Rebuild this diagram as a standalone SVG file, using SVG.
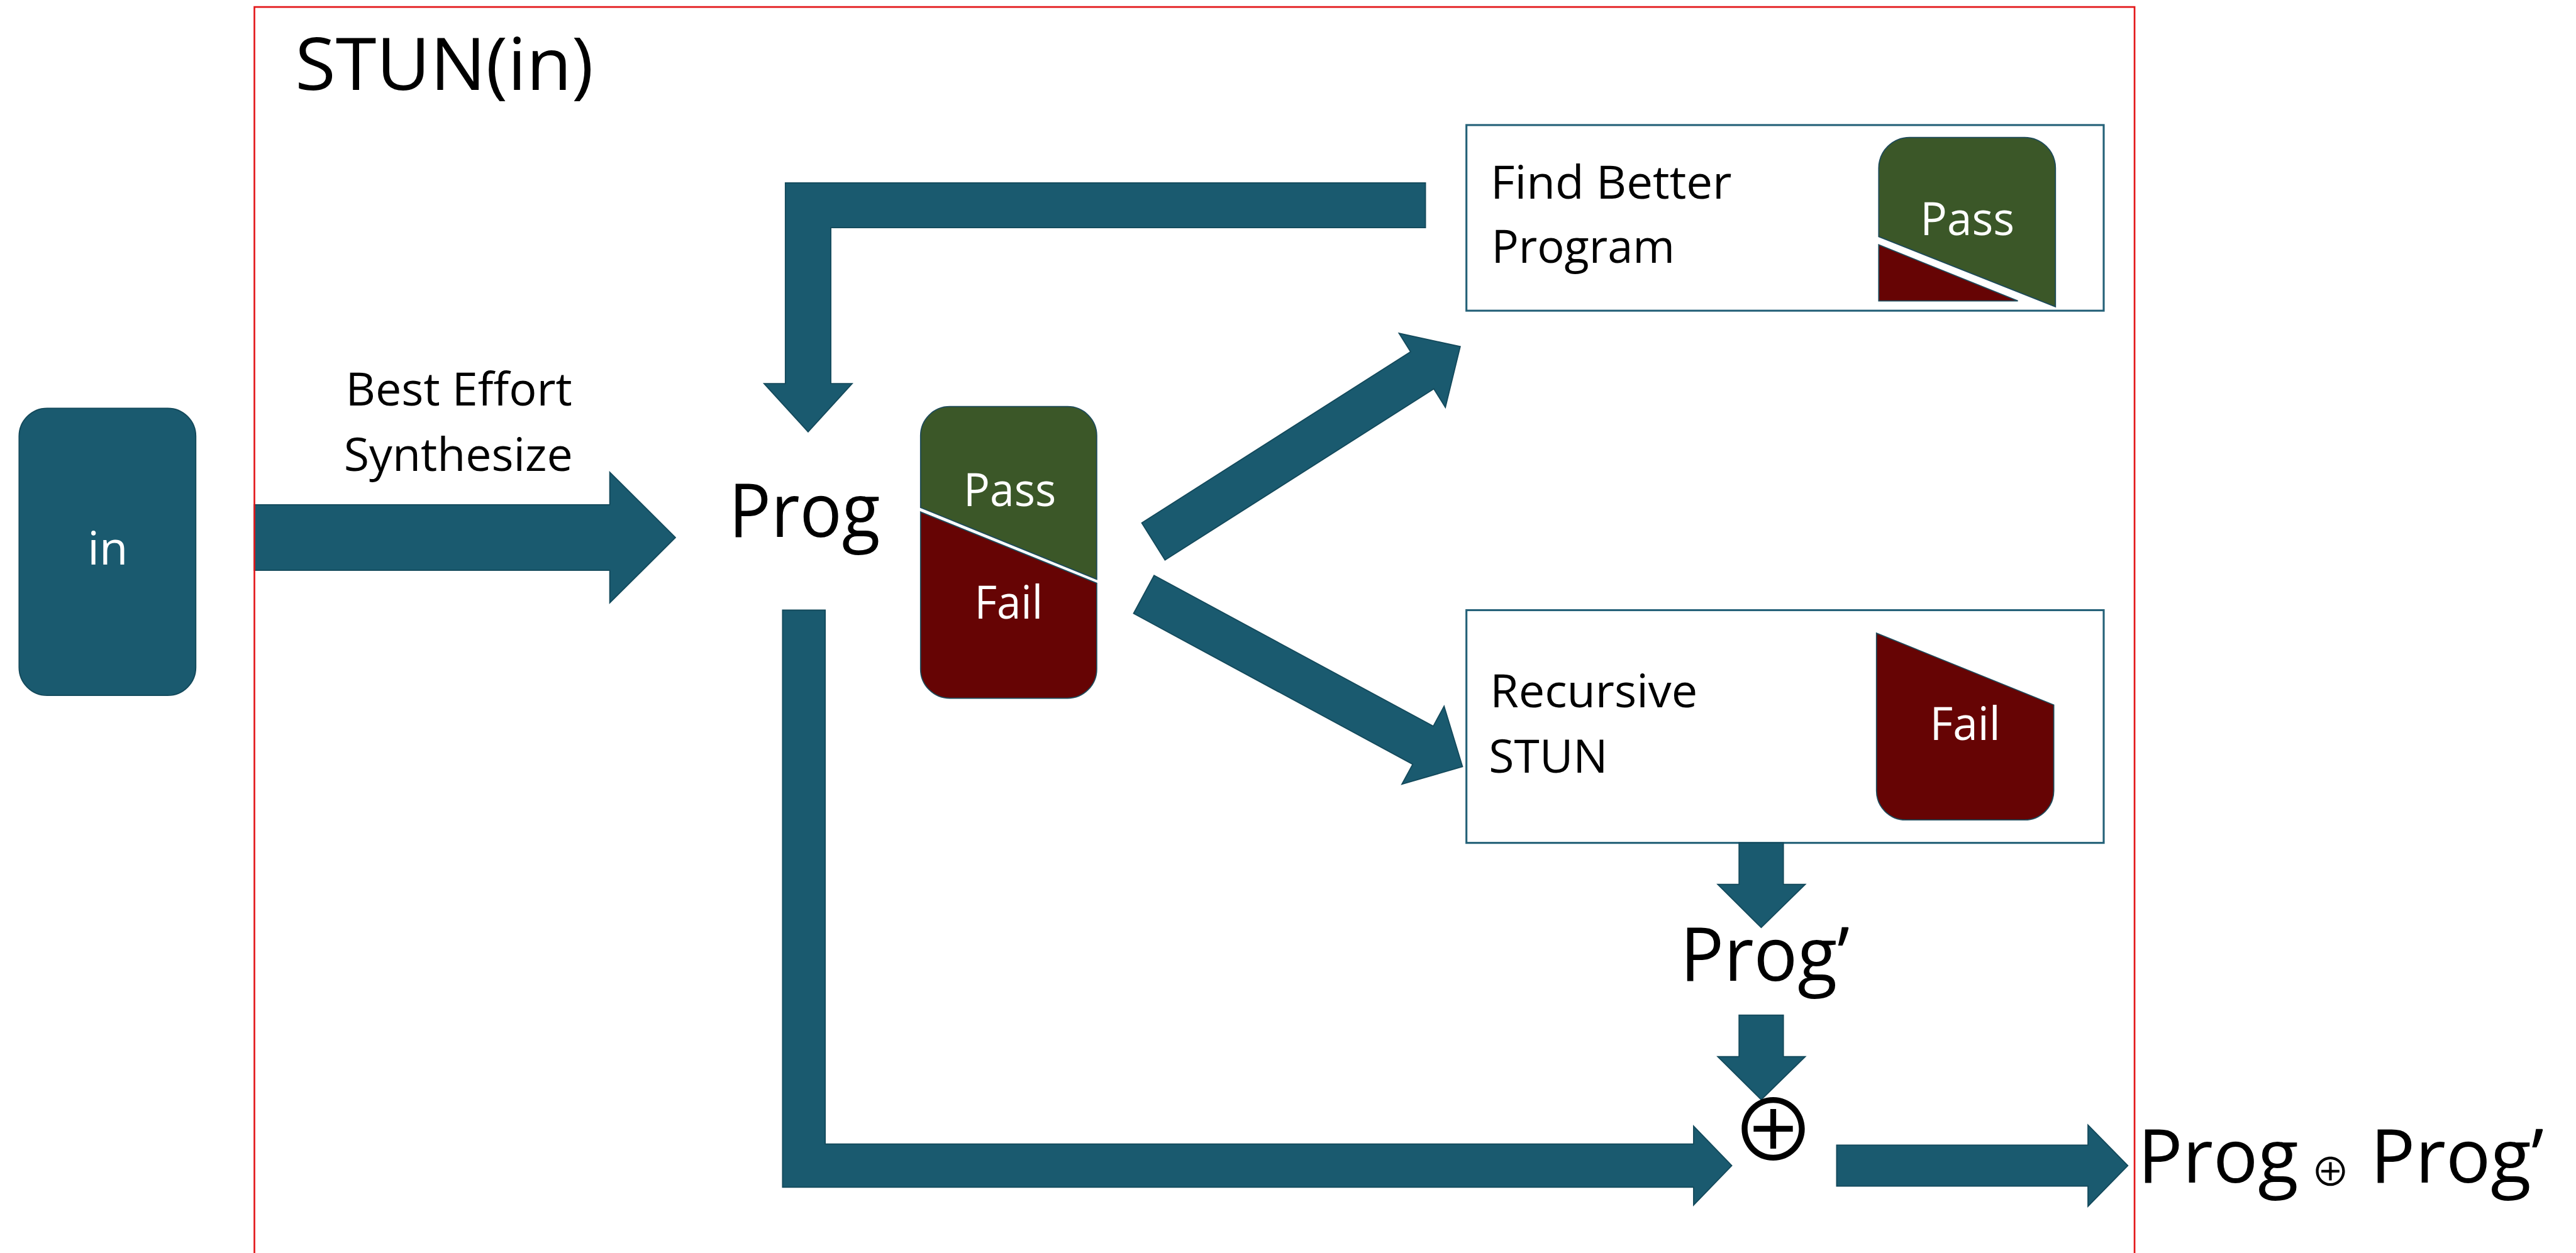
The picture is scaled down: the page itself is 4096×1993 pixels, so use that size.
<svg xmlns="http://www.w3.org/2000/svg" width="4096" height="1993" viewBox="0 0 4096 1993">
  <defs>
    <style>
      .lbl { font-family: "Open Sans", "Noto Sans", "Liberation Sans", sans-serif; fill: #000; }
      .w { fill: #fff; }
      .big { font-size: 133px; }
      .mid { font-size: 83px; }
      .arrow { fill: #1a5a6f; stroke: #13495b; stroke-width: 2; stroke-linejoin: miter; }
      .box { fill: #fff; stroke: #246178; stroke-width: 3.5; }
      .pass { fill: #3b5728; stroke: #1d4a5a; stroke-width: 2; }
      .fail { fill: #660404; stroke: #1d4a5a; stroke-width: 2; }
      .op { font-family: "Noto Sans CJK JP", "DejaVu Sans", sans-serif; fill: #000; }
    </style>
  </defs>
  <rect width="4096" height="1993" fill="#fff"/>
  <g transform="scale(0.892)">

    <!-- input node -->
    <g id="node-in">
      <rect x="34" y="728" width="315" height="512" rx="50" fill="#1a5a6f" stroke="#13495b" stroke-width="2"/>
      <text class="lbl mid w" x="192" y="1007" text-anchor="middle">in</text>
    </g>

    <!-- Find Better Program -->
    <g id="node-find-better">
      <rect class="box" x="2614" y="223" width="1136" height="331"/>
      <text class="lbl mid" x="2872" y="354" text-anchor="middle" textLength="430" lengthAdjust="spacingAndGlyphs">Find Better</text>
      <text class="lbl mid" x="2822" y="469" text-anchor="middle" textLength="327" lengthAdjust="spacingAndGlyphs">Program</text>
      <path class="pass" d="M3349,422 V300 A55,55 0 0 1 3404,245 H3609 A55,55 0 0 1 3664,300 V547 Z"/>
      <path class="fail" d="M3349,436.5 L3597,536.6 H3349 Z"/>
      <text class="lbl mid w" x="3507" y="419" text-anchor="middle" textLength="168" lengthAdjust="spacingAndGlyphs">Pass</text>
    </g>

    <!-- Recursive STUN -->
    <g id="node-recursive">
      <rect class="box" x="2614" y="1088" width="1136" height="415"/>
      <text class="lbl mid" x="2841" y="1261" text-anchor="middle" textLength="370" lengthAdjust="spacingAndGlyphs">Recursive</text>
      <text class="lbl mid" x="2760" y="1378" text-anchor="middle" textLength="212" lengthAdjust="spacingAndGlyphs">STUN</text>
      <path class="fail" d="M3345,1129 L3661,1257 V1410 A52,52 0 0 1 3609,1462 H3397 A52,52 0 0 1 3345,1410 Z"/>
      <text class="lbl mid w" x="3503" y="1319" text-anchor="middle" textLength="126" lengthAdjust="spacingAndGlyphs">Fail</text>
    </g>

    <!-- connectors -->
    <g id="connectors">
      <path class="arrow" d="M453,900 H1087 V842 L1204,958.5 L1087,1075 V1017 H453 Z"/>
      <path class="arrow" d="M2541,326 V406 H1481 V684 H1519 L1440.5,770 L1362,684 H1400 V326 Z"/>
      <path class="arrow" d="M2035.3,932.4 L2514.5,627.3 L2493.9,594.3 L2603,618 L2576.5,726.5 L2555.9,693.5 L2076.7,998.6 Z"/>
      <path class="arrow" d="M2057.3,1026.1 L2554.9,1295 L2574.2,1259.4 L2607,1367 L2499,1398.4 L2518.3,1362.8 L2020.7,1093.9 Z"/>
      <path class="arrow" d="M1395,1088 H1471 V2040 H3019 V2008 L3087,2078.5 L3019,2149 V2117 H1395 Z"/>
      <path class="arrow" d="M3100,1503 H3179 V1577 H3218 L3139.5,1654 L3062,1577 H3100 Z"/>
      <path class="arrow" d="M3100,1810 H3179 V1884 H3218 L3139.5,1961 L3062,1884 H3100 Z"/>
      <path class="arrow" d="M3274,2042 H3722 V2006 L3793,2078.5 L3722,2151 V2115 H3274 Z"/>
      <text class="lbl mid" x="818" y="723" text-anchor="middle" textLength="404" lengthAdjust="spacingAndGlyphs">Best Effort</text>
      <text class="lbl mid" x="817" y="840" text-anchor="middle" textLength="408" lengthAdjust="spacingAndGlyphs">Synthesize</text>
    </g>

    <!-- current program and its test outcome -->
    <g id="node-prog">
      <text class="lbl big" x="1434" y="957" text-anchor="middle" textLength="270" lengthAdjust="spacingAndGlyphs">Prog</text>
    </g>
    <g id="node-passfail">
      <path class="pass" d="M1641,905 V777 A52,52 0 0 1 1693,725 H1903 A52,52 0 0 1 1955,777 V1033 Z"/>
      <path class="fail" d="M1641,913 L1955,1040 V1193 A52,52 0 0 1 1903,1245 H1693 A52,52 0 0 1 1641,1193 Z"/>
      <text class="lbl mid w" x="1800" y="902" text-anchor="middle" textLength="165" lengthAdjust="spacingAndGlyphs">Pass</text>
      <text class="lbl mid w" x="1798" y="1103" text-anchor="middle" textLength="122" lengthAdjust="spacingAndGlyphs">Fail</text>
    </g>

    <!-- repaired program and combination -->
    <g id="node-prog2">
      <text class="lbl big" x="3146" y="1749" text-anchor="middle" textLength="302" lengthAdjust="spacingAndGlyphs">Prog’</text>
    </g>
    <g id="node-combine">
      <text class="op" x="3161" y="2071" font-size="152" text-anchor="middle">⊕</text>
    </g>
    <g id="node-result">
      <text class="lbl big" y="2109"><tspan x="3954" text-anchor="middle">Prog</tspan><tspan class="op" x="4154" y="2115" font-size="70" text-anchor="middle">⊕</tspan><tspan x="4380" y="2109" text-anchor="middle">Prog’</tspan></text>
    </g>

    <!-- STUN(in) frame -->
    <g id="frame">
      <path d="M453.5,2240 V12.5 H3805 V2240" fill="none" stroke="#e3191b" stroke-width="3"/>
      <text class="lbl" x="792" y="160" font-size="129" text-anchor="middle" textLength="532" lengthAdjust="spacingAndGlyphs">STUN(in)</text>
    </g>
  </g>
</svg>
